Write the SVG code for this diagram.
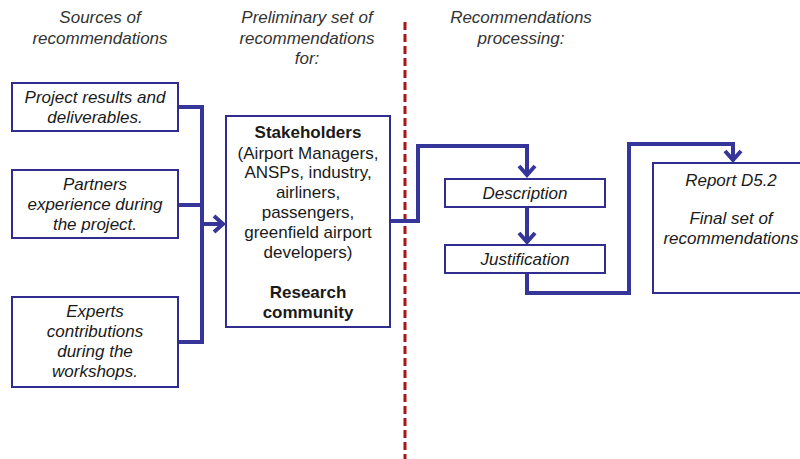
<svg xmlns="http://www.w3.org/2000/svg" width="800" height="459" viewBox="0 0 800 459">
<style>
.box{fill:#fff;stroke:#2f2e8e;stroke-width:2}
.t{font-family:"Liberation Sans",Arial,sans-serif;font-size:17px;fill:#1a1a1a;text-anchor:middle}
.i{font-style:italic}
.b{font-weight:bold}
.h{font-family:"Liberation Sans",Arial,sans-serif;font-size:17px;font-style:italic;fill:#333;text-anchor:middle}
.c{fill:none;stroke:#35359a;stroke-width:4;stroke-linejoin:miter}
</style>
<defs>
<marker id="ah" markerUnits="userSpaceOnUse" markerWidth="24" markerHeight="24" viewBox="-14 -12 16 24" refX="0" refY="0" orient="auto">
<path d="M-10,-8 L-1,0 L-10,8" fill="none" stroke="#35359a" stroke-width="4"/>
</marker>
</defs>
<rect width="800" height="459" fill="#fff"/>
<g id="headers">
<text class="h" x="100" y="23">Sources of</text>
<text class="h" x="100" y="44">recommendations</text>
<text class="h" x="307" y="23">Preliminary set of</text>
<text class="h" x="307" y="44">recommendations</text>
<text class="h" x="307" y="64">for:</text>
<text class="h" x="521" y="23">Recommendations</text>
<text class="h" x="521" y="44">processing:</text>
</g>
<g id="divider">
<line x1="405" y1="22" x2="405" y2="459" stroke="#a8151b" stroke-width="3" stroke-dasharray="8,4"/>
</g>
<g id="connectors">
<polyline class="c" points="178,107 202,107 202,342 178,342"/>
<line class="c" x1="178" y1="205" x2="202" y2="205"/>
<line class="c" x1="202" y1="224" x2="224" y2="224" marker-end="url(#ah)"/>
<polyline class="c" points="390,221 418,221 418,146 527,146 527,176" marker-end="url(#ah)"/>
<line class="c" x1="527" y1="207" x2="527" y2="243" marker-end="url(#ah)"/>
<polyline class="c" points="527,273 527,293 629,293 629,144 733,144 733,161" marker-end="url(#ah)"/>
</g>
<g id="n1">
<rect class="box" x="12" y="83" width="166" height="48"/>
<text class="t i" x="95" y="103">Project results and</text>
<text class="t i" x="95" y="123">deliverables.</text>
</g>
<g id="n2">
<rect class="box" x="12" y="170" width="166" height="68"/>
<text class="t i" x="95" y="190">Partners</text>
<text class="t i" x="95" y="210">experience during</text>
<text class="t i" x="95" y="230">the project.</text>
</g>
<g id="n3">
<rect class="box" x="12" y="297" width="166" height="90"/>
<text class="t i" x="95" y="317">Experts</text>
<text class="t i" x="95" y="337">contributions</text>
<text class="t i" x="95" y="357">during the</text>
<text class="t i" x="95" y="377">workshops.</text>
</g>
<g id="n4">
<rect class="box" x="226" y="116" width="164" height="211"/>
<text class="t b" x="308" y="138">Stakeholders</text>
<text class="t" x="308" y="159">(Airport Managers,</text>
<text class="t" x="308" y="178">ANSPs, industry,</text>
<text class="t" x="308" y="198">airliners,</text>
<text class="t" x="308" y="218">passengers,</text>
<text class="t" x="308" y="238">greenfield airport</text>
<text class="t" x="308" y="258">developers)</text>
<text class="t b" x="308" y="298">Research</text>
<text class="t b" x="308" y="318">community</text>
</g>
<g id="n5">
<rect class="box" x="445" y="179" width="160" height="28"/>
<text class="t i" x="525" y="199">Description</text>
</g>
<g id="n6">
<rect class="box" x="445" y="245" width="160" height="28"/>
<text class="t i" x="525" y="265">Justification</text>
</g>
<g id="n7">
<rect class="box" x="653" y="163" width="160" height="130"/>
<text class="t i" x="731" y="186">Report D5.2</text>
<text class="t i" x="731" y="224">Final set of</text>
<text class="t i" x="731" y="244">recommendations</text>
</g>
</svg>
